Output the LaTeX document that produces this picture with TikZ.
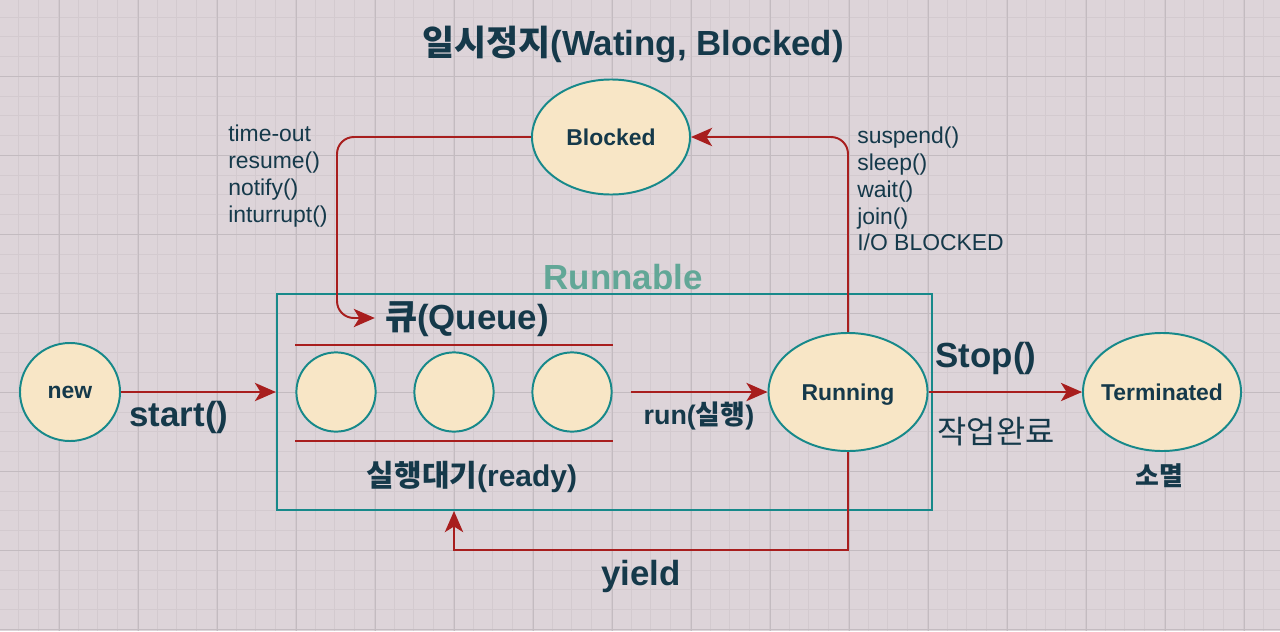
\documentclass[tikz,border=0pt]{standalone}
\usepackage{fontspec}
\setmainfont{Liberation Sans}
\newfontfamily\kr{Noto Sans CJK KR}
\usetikzlibrary{shapes.geometric,arrows.meta,calc}
\definecolor{bgc}{HTML}{DDD4D9}
\definecolor{minorc}{HTML}{D3CACF}
\definecolor{majorc}{HTML}{C3BBC0}
\definecolor{txt}{HTML}{15394A}
\definecolor{fillc}{HTML}{F8E6C6}
\definecolor{tealc}{HTML}{17898A}
\definecolor{redc}{HTML}{A81E1E}
\definecolor{runc}{HTML}{62A797}
\tikzset{
  st/.style={ellipse,draw=tealc,fill=fillc,line width=1.4pt,inner xsep=-1.2cm,inner ysep=-0.5cm,text depth=0pt,text=txt,font=\fontsize{16.3}{19}\selectfont\bfseries},
  qc/.style={circle,draw=tealc,fill=fillc,line width=1.4pt,inner sep=0pt,minimum size=1.98cm},
  conn/.style={draw=redc,line width=1.4pt,-{Stealth[length=15pt,width=13pt,inset=4pt]}},
  redline/.style={draw=redc,line width=1.4pt},
  big/.style={text=txt,inner sep=0pt,font=\fontsize{24.8}{28}\selectfont\bfseries},
  small/.style={text=txt,inner sep=0pt,align=left,font=\fontsize{16.3}{19.1}\selectfont},
}
\begin{document}
\begin{tikzpicture}[x=0.025cm,y=-0.025cm]
\fill[bgc] (0,0) rectangle (1280,631);
\useasboundingbox (0,0) rectangle (1280,631);
\foreach \i in {0,...,66} {
  \draw[minorc,line width=0.5pt] ({-20.7+19.75*\i},0) -- ({-20.7+19.75*\i},631);
}
\foreach \i in {0,...,33} {
  \draw[minorc,line width=0.5pt] (0,{-2.7+19.75*\i}) -- (1280,{-2.7+19.75*\i});
}
\foreach \i in {0,...,16} {
  \draw[majorc,line width=0.5pt] ({59.3+79*\i},0) -- ({59.3+79*\i},631);
}
\foreach \i in {0,...,8} {
  \draw[majorc,line width=0.5pt] (0,{-2.7+79*\i}) -- (1280,{-2.7+79*\i});
}

% title
\node[big] (title) at (633,44) {{\kr 일시정지}(Wating, Blocked)};

% runnable box
\node[draw=tealc,line width=1.4pt,minimum width=16.375cm,minimum height=5.4cm,inner sep=0pt] (runbox) at (604.5,402) {};
\node[big,text=runc] (runlbl) at (623,277) {Runnable};

% states
\node[st,minimum width=3.95cm,minimum height=2.875cm] (blocked) at (611,137) {Blocked};
\node[st,minimum width=2.5cm,minimum height=2.45cm] (new) at (70,392) {new};
\node[st,minimum width=3.975cm,minimum height=2.95cm] (running) at (848,392) {Running};
\node[st,minimum width=3.95cm,minimum height=2.95cm] (term) at (1162,392) {Terminated};

% queue
\node[big] (queue) at (467,319) {{\kr 큐}(Queue)};
\node[qc] (q1) at (336,392) {};
\node[qc] (q2) at (454,392) {};
\node[qc] (q3) at (572,392) {};
\draw[redline] ($(q1.west)+(0,-47)$) -- ($(q3.east)+(0,-47)$);
\draw[redline] ($(q1.west)+(0,49)$) -- ($(q3.east)+(0,49)$);
\node[text=txt,inner sep=0pt,font=\fontsize{21.3}{24}\selectfont\bfseries] (ready) at (472,477) {{\kr 실행대기}(ready)};

% labels
\node[big] (start) at (179,417) {start()};
\node[text=txt,inner sep=0pt,font=\fontsize{19.1}{22}\selectfont\bfseries] (runlabel) at (699,416) {run({\kr 실행})};
\node[big] (stop) at (986,358) {Stop()};
\node[text=txt,inner sep=0pt,font=\fontsize{22.6}{24}\selectfont\kr] (done) at (996,432) {작업완료};
\node[text=txt,inner sep=0pt,font=\fontsize{18.4}{20}\selectfont\kr\bfseries] (die) at (1159,476) {소멸};
\node[big] (yield) at (641,576) {yield};
\node[small,anchor=west] (leftl) at (228,176) {time-out\\resume()\\notify()\\inturrupt()};
\node[small,anchor=west] (rightl) at (857,189) {suspend()\\sleep()\\wait()\\join()\\I/O BLOCKED};

% connectors
\draw[conn] (new.east) -- (new.east -| runbox.west);
\draw[conn] ($(q3.east)+(18,0)$) -- (running.west);
\draw[conn] (running.east) -- (term.west);
\draw[conn] (running.south) -- ++(0,98) -| (q2 |- runbox.south);
\draw[conn,rounded corners=12pt] (running.north) |- (blocked.east);
\draw[conn,rounded corners=12pt] (blocked.west) -- ++(-194,0) |- ($(queue.west)+(-10,-1)$);
\end{tikzpicture}
\end{document}
